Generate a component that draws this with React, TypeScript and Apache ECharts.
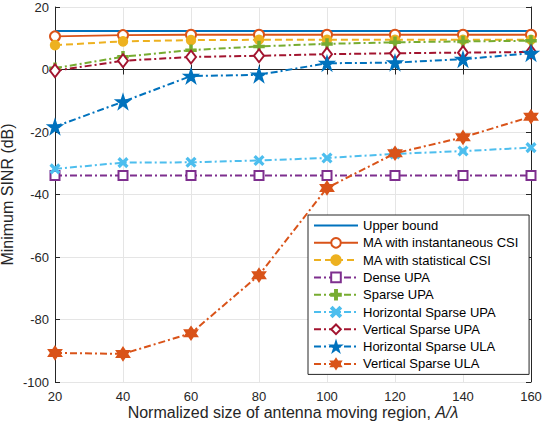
import React, { useEffect, useRef } from "react";
import * as echarts from "echarts";

const xValues = [20, 40, 60, 80, 100, 120, 140, 160];
const upperBound = [12.3, 12.3, 12.3, 12.3, 12.3, 12.3, 12.3, 12.3];
const maInstant = [10.6, 11.0, 11.1, 11.1, 11.1, 11.1, 11.1, 11.1];
const maStatistical = [7.8, 9.0, 9.4, 9.5, 9.5, 9.5, 9.5, 9.5];
const denseUPA = [-33.9, -33.9, -33.9, -33.9, -33.9, -33.9, -33.9, -33.9];
const sparseUPA = [0.4, 4.1, 6.2, 7.4, 8.2, 8.7, 9.0, 9.2];
const horizSparseUPA = [-31.8, -29.8, -29.7, -29.1, -28.3, -27.0, -26.1, -25.0];
const vertSparseUPA = [-0.4, 2.8, 4.0, 4.4, 4.9, 5.2, 5.4, 5.6];
const horizSparseULA = [-18.3, -10.3, -2.1, -1.7, 2.0, 2.2, 3.3, 5.2];
const vertSparseULA = [-90.7, -91.0, -84.4, -65.8, -37.9, -26.8, -21.7, -15.1];

const seriesNames = [
  "Upper bound",
  "MA with instantaneous CSI",
  "MA with statistical CSI",
  "Dense UPA",
  "Sparse UPA",
  "Horizontal Sparse UPA",
  "Vertical Sparse UPA",
  "Horizontal Sparse ULA",
  "Vertical Sparse ULA",
];

const C_BLUE = "#0072BD";
const C_ORANGE = "#D95319";
const C_YELLOW = "#EDB120";
const C_PURPLE = "#7E2F8E";
const C_GREEN = "#77AC30";
const C_LIGHTBLUE = "#4DBEEE";
const C_DARKRED = "#A2142F";

const PLUS =
  "path://M-1,-5L1,-5L1,-1L5,-1L5,1L1,1L1,5L-1,5L-1,1L-5,1L-5,-1L-1,-1Z";
const CROSS =
  "path://M0,1.4L3.6,5L5,3.6L1.4,0L5,-3.6L3.6,-5L0,-1.4L-3.6,-5L-5,-3.6L-1.4,0L-5,3.6L-3.6,5Z";
const STAR5 =
  "path://M0,-10L2.245,-3.09L9.51,-3.09L3.633,1.18L5.88,8.09L0,3.82L-5.88,8.09L-3.633,1.18L-9.51,-3.09L-2.245,-3.09Z";
const STAR6 =
  "path://M0,-10L2.887,-5L8.66,-5L5.774,0L8.66,5L2.887,5L0,10L-2.887,5L-8.66,5L-5.774,0L-8.66,-5L-2.887,-5Z";

const DASH = [7, 4];
const DASHDOT = [7, 3, 2, 3];

const FONT = "Liberation Sans, Arial, Helvetica, sans-serif";
const TXT = "#262626";

function pairs(vals: number[]) {
  return xValues.map((x, i) => [x, vals[i]]);
}

export default function App() {
  const ref = useRef<HTMLDivElement>(null);

  useEffect(() => {
    if (!ref.current) return;
    const chart = echarts.init(ref.current, undefined, { renderer: "svg" });

    const mk = (
      name: string,
      vals: number[],
      color: string,
      lineType: any,
      symbol: string,
      symbolSize: any,
      extra: any = {}
    ) => ({
      name,
      type: "line",
      xAxisIndex: 0,
      yAxisIndex: 0,
      data: pairs(vals),
      symbol,
      symbolSize,
      showSymbol: symbol !== "none",
      lineStyle: { color, width: 2, type: lineType },
      itemStyle: { color, borderColor: color, borderWidth: 1.5 },
      emphasis: { disabled: true },
      z: 3,
      ...extra,
    });

    const series = [
      mk(seriesNames[0], upperBound, C_BLUE, "solid", "none", 0, {
        itemStyle: { color: C_BLUE, borderWidth: 0 },
      }),
      mk(seriesNames[1], maInstant, C_ORANGE, "solid", "emptyCircle", 10, {
        itemStyle: { color: C_ORANGE, borderWidth: 2 },
      }),
      mk(seriesNames[2], maStatistical, C_YELLOW, DASH, "circle", 9),
      mk(seriesNames[3], denseUPA, C_PURPLE, DASHDOT, "emptyRect", 9, {
        itemStyle: { color: C_PURPLE, borderWidth: 2 },
      }),
      mk(seriesNames[4], sparseUPA, C_GREEN, DASHDOT, PLUS, 10),
      mk(seriesNames[5], horizSparseUPA, C_LIGHTBLUE, DASHDOT, CROSS, 9),
      mk(seriesNames[6], vertSparseUPA, C_DARKRED, DASHDOT, "emptyDiamond", [10, 13], {
        itemStyle: { color: C_DARKRED, borderWidth: 2 },
      }),
      mk(seriesNames[7], horizSparseULA, C_BLUE, DASHDOT, STAR5, 14),
      mk(seriesNames[8], vertSparseULA, C_ORANGE, DASHDOT, STAR6, 13),
    ];

    const legendData = seriesNames.map((n, i) =>
      i === 0
        ? { name: n, icon: "path://M0,0L44,0L44,2L0,2Z", itemStyle: { borderWidth: 0 } }
        : { name: n }
    );

    const commonAxisLine = { show: true, lineStyle: { color: TXT, width: 1 } };

    chart.setOption({
      animation: false,
      backgroundColor: "#ffffff",
      textStyle: { fontFamily: FONT },
      grid: {
        left: 55,
        top: 7,
        right: 13,
        bottom: 48,
        containLabel: false,
        outerBoundsMode: "none",
      },
      xAxis: [
        {
          type: "value",
          min: 20,
          max: 160,
          interval: 20,
          position: "bottom",
          name: "Normalized size of antenna moving region, {i|A/λ}",
          nameLocation: "middle",
          nameGap: 22,
          nameMoveOverlap: false,
          nameTextStyle: {
            color: TXT,
            fontSize: 16,
            fontFamily: FONT,
            verticalAlign: "top",
            rich: { i: { fontStyle: "italic", fontSize: 16, color: TXT, fontFamily: FONT } },
          },
          axisLine: commonAxisLine,
          axisTick: { show: true, inside: true, length: 5, lineStyle: { color: TXT } },
          axisLabel: { color: TXT, fontSize: 13, margin: 8, fontFamily: FONT },
          splitLine: { show: true, lineStyle: { color: "#e5e5e5", width: 1 } },
        },
        {
          type: "value",
          min: 20,
          max: 160,
          interval: 20,
          position: "top",
          axisLine: commonAxisLine,
          axisTick: { show: true, inside: true, length: 5, lineStyle: { color: TXT } },
          axisLabel: { show: false },
          splitLine: { show: false },
        },
      ],
      yAxis: [
        {
          type: "value",
          min: -100,
          max: 20,
          interval: 20,
          position: "left",
          name: "Minimum SINR (dB)",
          nameLocation: "middle",
          nameGap: 40,
          nameMoveOverlap: false,
          nameTextStyle: { color: TXT, fontSize: 16, fontFamily: FONT },
          axisLine: commonAxisLine,
          axisTick: { show: true, inside: true, length: 5, lineStyle: { color: TXT } },
          axisLabel: { color: TXT, fontSize: 13, margin: 6, fontFamily: FONT },
          splitLine: { show: true, lineStyle: { color: "#e5e5e5", width: 1 } },
        },
        {
          type: "value",
          min: -100,
          max: 20,
          interval: 20,
          position: "right",
          axisLine: commonAxisLine,
          axisTick: { show: true, inside: true, length: 5, lineStyle: { color: TXT } },
          axisLabel: { show: false },
          splitLine: { show: false },
        },
      ],
      legend: {
        show: true,
        data: legendData,
        orient: "vertical",
        left: 308,
        top: 215,
        itemWidth: 44,
        itemHeight: 12,
        itemGap: 4.3,
        padding: [4, 10, 4, 5],
        backgroundColor: "#ffffff",
        borderColor: TXT,
        borderWidth: 1,
        borderRadius: 0,
        selectedMode: false,
        textStyle: { color: "#000000", fontSize: 13, fontFamily: FONT, lineHeight: 12 },
        z: 10,
      },
      series,
    });

    return () => chart.dispose();
  }, []);

  return (
    <div
      ref={ref}
      style={{ position: "absolute", left: 0, top: 0, width: 544, height: 430 }}
    />
  );
}
